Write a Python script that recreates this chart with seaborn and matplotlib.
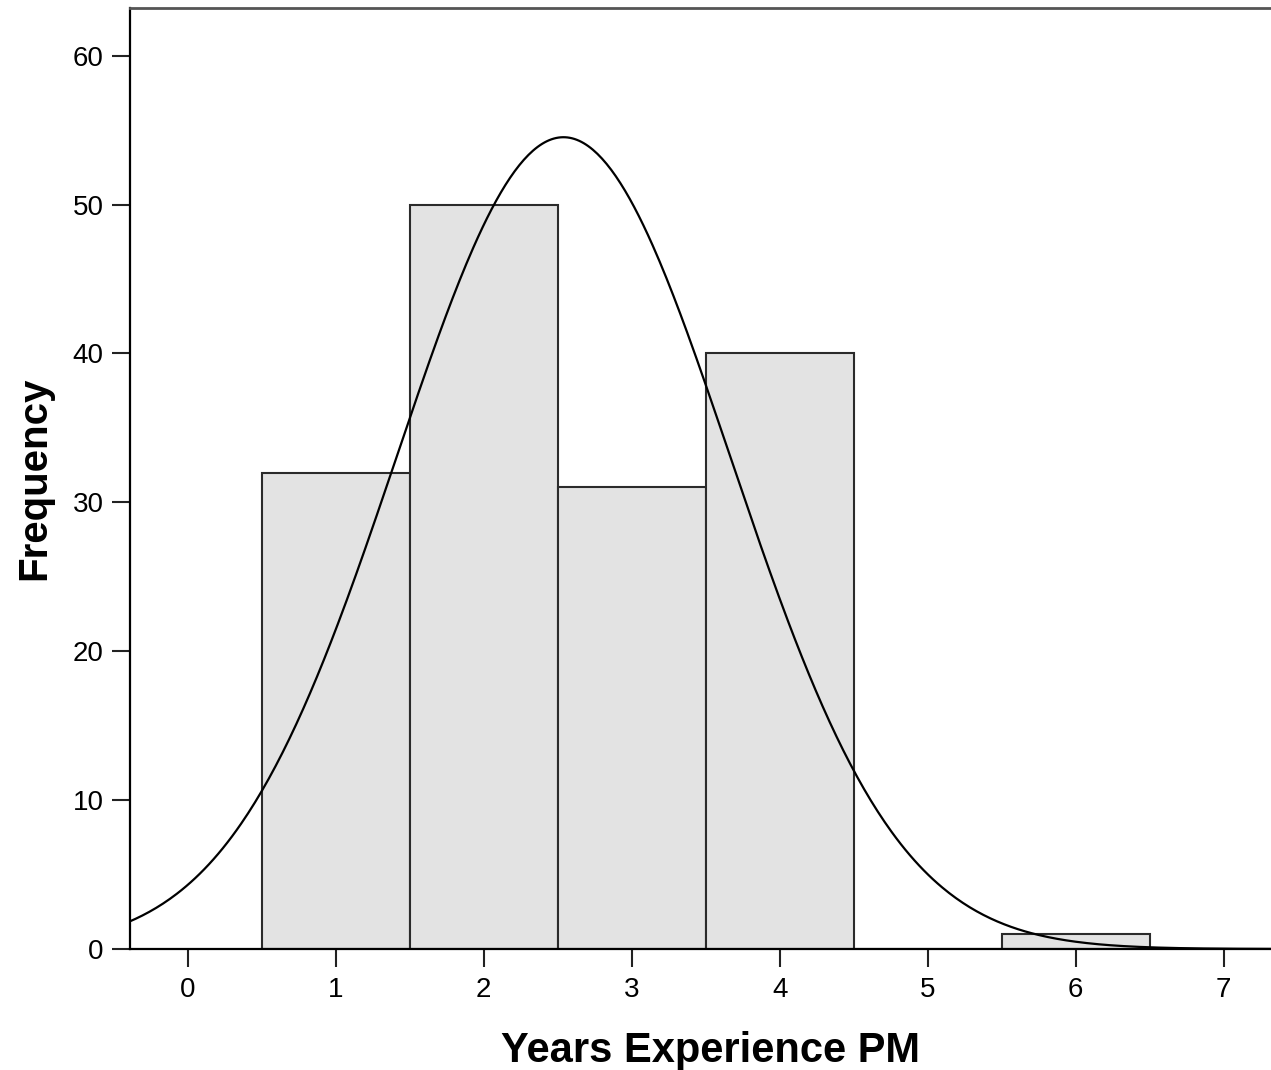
import numpy as np
import matplotlib
matplotlib.use("Agg")
import matplotlib.pyplot as plt
import seaborn as sns

# Histogram data: years of PM experience and how many respondents had each
years = [1, 2, 3, 4, 6]
counts = [32, 50, 31, 40, 1]
x_ticks = [0, 1, 2, 3, 4, 5, 6, 7]
y_ticks = [0, 10, 20, 30, 40, 50, 60]

sns.set_style("ticks")
plt.rcParams['font.family'] = ['Liberation Sans', 'DejaVu Sans']

fig = plt.figure(figsize=(12.71, 10.70), dpi=100)
ax = fig.add_axes([0.1023, 0.1131, 0.8977, 0.8794])

sns.histplot(x=years, weights=counts, discrete=True, ax=ax,
             color="#e3e3e3", alpha=1.0, edgecolor="#2b2b2b", linewidth=1.5)

# Normal curve fitted to the same data (scaled to counts, bin width 1)
vals = np.repeat(years, counts)
n = len(vals)
mu = vals.mean()
sd = vals.std(ddof=1)
xs = np.linspace(-0.4, 7.35, 500)
ys = n * np.exp(-0.5 * ((xs - mu) / sd) ** 2) / (sd * np.sqrt(2 * np.pi))
sns.lineplot(x=xs, y=ys, ax=ax, color="black", linewidth=1.6)

ax.set_xlim(-0.39, 7.32)
ax.set_ylim(0, 63.2)
ax.set_xticks(x_ticks)
ax.set_yticks(y_ticks)
ax.tick_params(axis="both", direction="out", length=13, width=1.5,
               labelsize=20, color="#222222", labelcolor="black")
ax.tick_params(axis="x", pad=7)
ax.tick_params(axis="y", pad=6)

for side in ["left", "bottom"]:
    ax.spines[side].set_color("black")
    ax.spines[side].set_linewidth(1.6)
ax.spines["top"].set_visible(True)
ax.spines["top"].set_color("#555555")
ax.spines["top"].set_linewidth(2)
ax.spines["right"].set_visible(False)

ax.set_xlabel("Years Experience PM", fontsize=30, fontweight="bold",
              labelpad=20, color="black")
ax.xaxis.label.set_x(0.509)
ax.set_ylabel("Frequency", fontsize=29, fontweight="bold",
              labelpad=14, color="black")

fig.savefig("out.png", dpi=100, facecolor="white")
